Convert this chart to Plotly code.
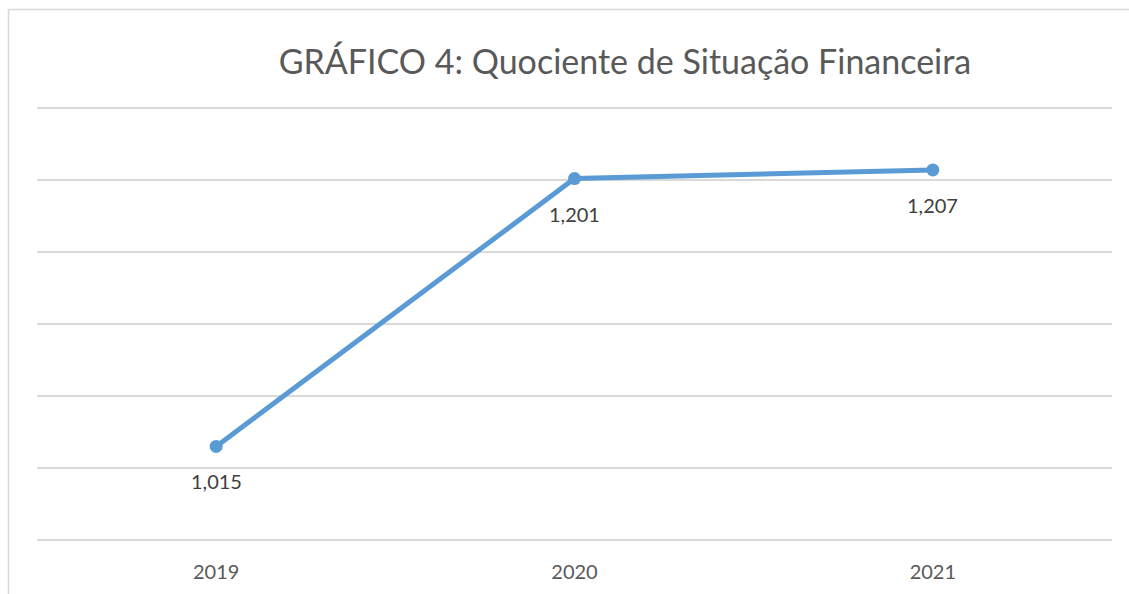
import plotly.graph_objects as go

categories = ["2019", "2020", "2021"]
values = [1.015, 1.201, 1.207]
labels = [f"{v:.3f}".replace(".", ",") for v in values]
grid_values = [0.95, 1.0, 1.05, 1.1, 1.15, 1.2, 1.25]

fig = go.Figure()
fig.add_trace(go.Scatter(
    x=categories, y=values, mode="lines+markers",
    line=dict(color="#5B9BD5", width=5),
    marker=dict(color="#5B9BD5", size=13),
    hoverinfo="skip", showlegend=False,
))
for i, (v, t) in enumerate(zip(values, labels)):
    fig.add_annotation(x=i, y=v, text=t, showarrow=False, yshift=-35,
                       font=dict(family="Lato", size=20, color="#404040"))

H, T, B = 594, 106, 52
ph = H - T - B
fig.add_shape(type="rect", xref="paper", yref="paper",
              x0=-0.0265, x1=1.2, y0=-0.5, y1=(H - 9.5 - B) / ph,
              line=dict(color="#D9D9D9", width=1.5), fillcolor="rgba(0,0,0,0)", layer="below")

pad = 2 / 1440
fig.update_layout(
    width=1129, height=H,
    margin=dict(l=37, r=17, t=T, b=B),
    paper_bgcolor="white", plot_bgcolor="white",
    title=dict(text="GRÁFICO 4: Quociente de Situação Financeira",
               x=625 / 1129, xanchor="center", y=1 - 62 / H, yanchor="middle",
               font=dict(family="Lato", size=34, color="#595959")),
    xaxis=dict(type="category", range=[-0.5, 2.5], showgrid=False, zeroline=False,
               showline=False, ticks="", tickfont=dict(family="Lato", size=20, color="#595959"),
               ticklabelstandoff=16),
    yaxis=dict(range=[0.95 - pad, 1.25 + pad], tickvals=grid_values,
               showgrid=True, gridcolor="#D9D9D9",
               gridwidth=1.5, zeroline=False, showticklabels=False, showline=False),
)
fig.write_html("out.html", config={"displayModeBar": False},
               post_script="document.body.style.margin='0';document.body.style.overflow='hidden';")
